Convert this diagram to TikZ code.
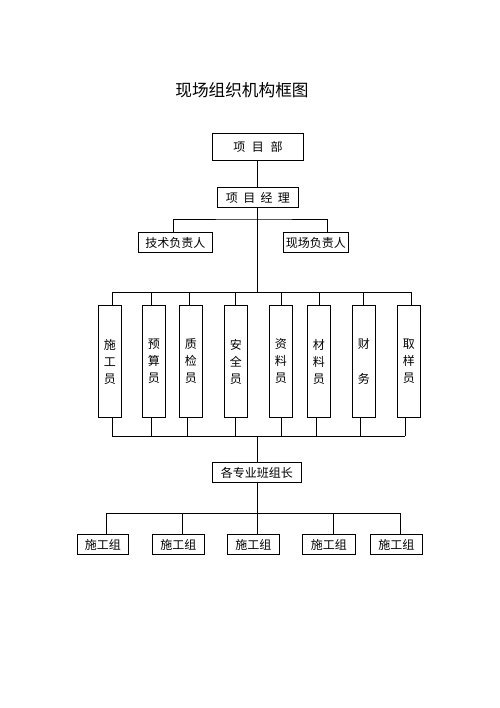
\documentclass[tikz,border=0pt]{standalone}
\usepackage{fontspec}
\newfontfamily\cjk{Noto Sans CJK SC}
\begin{document}
\begin{tikzpicture}[x=0.75pt,y=-0.75pt,
  box/.style={draw=black,line width=0.7pt,inner sep=0pt,anchor=north west,font=\cjk\fontsize{9}{12.75}\selectfont,align=center},
  ln/.style={line width=0.7pt,draw=black}]
\useasboundingbox[fill=white] (0,0) rectangle (500,708);
\node[font=\cjk\fontsize{12.5}{14}\selectfont] (title) at (242,90) {现场组织机构框图};
% top boxes
\node[box,minimum width=91*0.75pt,minimum height=27*0.75pt] (xmb) at (212,133) {项\hspace{5pt}目\hspace{5pt}部};
\node[box,minimum width=81*0.75pt,minimum height=20*0.75pt] (xmjl) at (217,187) {项\hspace{4pt}目\hspace{4pt}经\hspace{4pt}理};
\node[box,minimum width=74*0.75pt,minimum height=20*0.75pt] (js) at (138,232) {技术负责人};
\node[box,minimum width=65*0.75pt,minimum height=20*0.75pt] (xc) at (283,232) {现场负责人};
% staff boxes
\foreach \n/\x/\t in {s1/98/{施\\工\\员},s2/142/{预\\算\\员},s3/179/{质\\检\\员},s4/224/{安\\全\\员},s5/269/{资\\料\\员},s6/307/{材\\料\\员},s7/352/{财\\[14pt]务},s8/397/{取\\样\\员}}
  \node[box,minimum width=23*0.75pt,minimum height=112*0.75pt] (\n) at (\x,305) {\t};
\node[box,minimum width=89*0.75pt,minimum height=20*0.75pt] (bz) at (212,462) {各专业班组长};
\foreach \n/\x/\w in {g1/77/51,g2/152/52,g3/227/52,g4/302/53,g5/370/52}
  \node[box,minimum width=\w*0.75pt,minimum height=20*0.75pt] (\n) at (\x,534) {施工组};
% coordinates for buses
\coordinate (b1) at (257,219);
\coordinate (b2) at (257,292);
\coordinate (b3) at (257,436);
\coordinate (b4) at (257,513);
% connectors
\draw[ln] (xmb.south -| b1) -- (xmjl.north -| b1);
\draw[ln] (xmjl.south -| b1) -- (b2);
\draw[ln] (js.north -| 173,0) |- (b1) -| (xc.north -| 327,0);
\draw[ln] (112,292) -- (411,292);
\draw[ln] (112,436) -- (405,436);
\foreach \n/\x in {s1/112,s2/151,s3/189,s4/235,s5/281,s6/319,s7/363,s8/411}
  \draw[ln] (\x,292) -- (\n.north -| \x,0);
\foreach \n/\x in {s1/112,s2/151,s3/187,s4/235,s5/281,s6/316,s7/360,s8/405}
  \draw[ln] (\n.south -| \x,0) -- (\x,436);
\draw[ln] (b3) -- (bz.north -| b3);
\draw[ln] (bz.south -| b4) -- (b4);
\draw[ln] (106,513) -- (400,513);
\foreach \n/\x in {g1/106,g2/182,g3/257,g4/333,g5/400}
  \draw[ln] (\x,513) -- (\n.north -| \x,0);
\end{tikzpicture}
\end{document}
